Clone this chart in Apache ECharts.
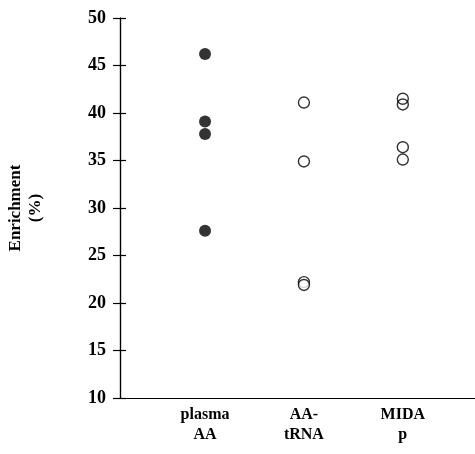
<!DOCTYPE html>
<html>
<head>
<meta charset="utf-8">
<script src="https://cdn.jsdelivr.net/npm/echarts@6/dist/echarts.min.js"></script>
<style>html,body{margin:0;padding:0;background:#fff;}#c{width:475px;height:454px;}</style>
</head>
<body>
<div id="c"></div>
<script>
var categories = ['plasma\nAA', 'AA-\ntRNA', 'MIDA\np'];
var plasmaAA = [46.2, 39.1, 37.8, 27.6];
var aaTRNA = [41.1, 34.9, 22.2, 21.9];
var midaP = [41.5, 40.9, 36.4, 35.1];
var yTicks = [10, 15, 20, 25, 30, 35, 40, 45, 50];

function pts(idx, arr) { return arr.map(function (v) { return [idx + 1, v]; }); }

var font = '"Liberation Serif", "Times New Roman", serif';
var chart = echarts.init(document.getElementById('c'));
var yBase = {
  type: 'value', min: yTicks[0], max: yTicks[yTicks.length - 1], interval: 5,
  position: 'left', splitLine: { show: false }
};
chart.setOption({
  animation: false,
  backgroundColor: '#fff',
  grid: { left: 120, right: 0, top: 18, bottom: 56, containLabel: false, outerBoundsMode: 'none' },
  xAxis: {
    type: 'value', min: 0.14, max: 3.73,
    splitLine: { show: false },
    axisLine: { show: true, onZero: false, lineStyle: { color: '#000', width: 1.2 } },
    axisTick: { show: false },
    axisLabel: {
      customValues: [1, 2, 3],
      formatter: function (v) { return categories[Math.round(v) - 1] || ''; },
      color: '#000', fontFamily: font, fontWeight: 'bold', fontSize: 16,
      lineHeight: 20, margin: 7
    }
  },
  yAxis: [
    Object.assign({}, yBase, {
      name: 'Enrichment\n(%)', nameLocation: 'middle', nameGap: 74, nameRotate: 90,
      nameTextStyle: { color: '#000', fontFamily: font, fontWeight: 'bold', fontSize: 17, lineHeight: 20 },
      axisLine: { show: true, onZero: false, lineStyle: { color: '#000', width: 1.2 } },
      axisTick: { show: true, length: 7, lineStyle: { color: '#000', width: 1.2 } },
      axisLabel: { color: '#000', fontFamily: font, fontWeight: 'bold', fontSize: 18, margin: 14 }
    }),
    Object.assign({}, yBase, {
      axisLine: { show: true, onZero: false, lineStyle: { color: '#000', width: 1.2 } },
      axisTick: { show: true, inside: true, length: 6, lineStyle: { color: '#000', width: 1.2 } },
      axisLabel: { show: false }
    })
  ],
  series: [
    { type: 'scatter', data: pts(0, plasmaAA), symbol: 'circle', symbolSize: 12,
      itemStyle: { color: '#000' } },
    { type: 'scatter', data: pts(1, aaTRNA), symbol: 'circle', symbolSize: 11,
      itemStyle: { color: '#fff', borderColor: '#000', borderWidth: 1.4 } },
    { type: 'scatter', data: pts(2, midaP), symbol: 'circle', symbolSize: 11,
      itemStyle: { color: 'rgba(255,255,255,0)', borderColor: '#000', borderWidth: 1.4 } }
  ]
});
</script>
</body>
</html>
